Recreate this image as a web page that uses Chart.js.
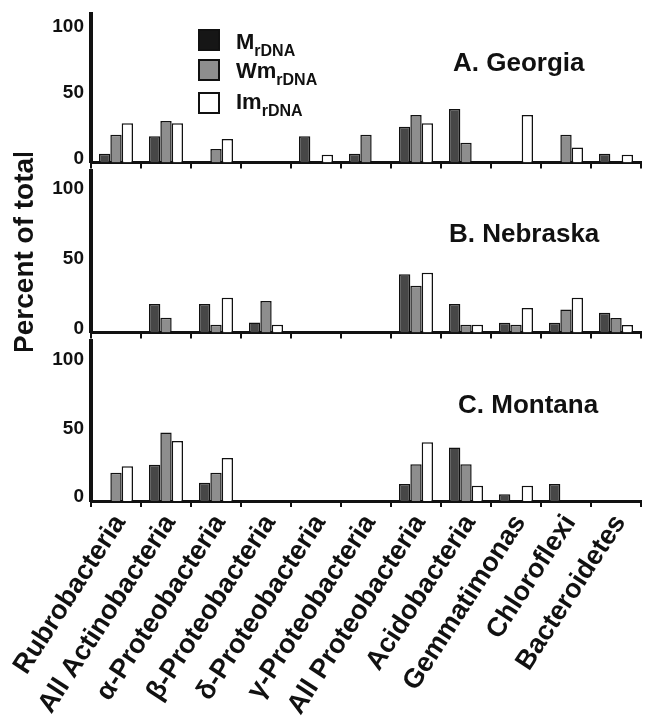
<!DOCTYPE html>
<html>
<head>
<meta charset="utf-8">
<script src="https://cdn.jsdelivr.net/npm/chart.js@4.4.1/dist/chart.umd.min.js"></script>
<style>
    body { margin: 0; background: #fff; font-family: 'Liberation Sans', Arial, sans-serif; }
    #wrap { position: relative; width: 648px; height: 728px; overflow: hidden; }
    canvas { position: absolute; left: 0; }
    .ttl { position: absolute; font-size: 26px; line-height: 26px; font-weight: bold; color: #111; white-space: nowrap; }
    .sq { position: absolute; left: 198px; width: 18px; height: 18px; border: 2px solid #111; }
    .lg { position: absolute; left: 236px; font-size: 22px; line-height: 22px; font-weight: bold; color: #111; white-space: nowrap; }
    .lg span { font-size: 16px; position: relative; top: 7px; }
</style>
</head>
<body>
<div id="wrap">
    <canvas id="cA" width="648" height="185" style="top:-4px"></canvas>
    <canvas id="cB" width="648" height="198" style="top:153px"></canvas>
    <canvas id="cC" width="648" height="405" style="top:323px"></canvas>

    <div class="sq" style="top:29px; background:#161616"></div>
    <div class="sq" style="top:59px; background:#8e8e8e"></div>
    <div class="sq" style="top:92px; background:#fff"></div>
    <div class="lg" style="top:31px">M<span>rDNA</span></div>
    <div class="lg" style="top:60px">Wm<span>rDNA</span></div>
    <div class="lg" style="top:91px">Im<span>rDNA</span></div>

    <div class="ttl" style="left:453px; top:49px">A. Georgia</div>
    <div class="ttl" style="left:449px; top:220px">B. Nebraska</div>
    <div class="ttl" style="left:458px; top:391px">C. Montana</div>
</div>
<script>
// categories along the shared x axis
var categories = ['Rubrobacteria', 'All Actinobacteria', 'α-Proteobacteria', 'β-Proteobacteria',
    'δ-Proteobacteria', 'γ-Proteobacteria', 'All Proteobacteria', 'Acidobacteria',
    'Gemmatimonas', 'Chloroflexi', 'Bacteroidetes'];
var seriesNames = ['MrDNA', 'WmrDNA', 'ImrDNA'];
var yTicks = [0, 50, 100];

// A. Georgia
var georgiaM  = [6.6, 20, null, null, 20, 6.6, 27, 40.5, null, null, 6.6];
var georgiaWm = [21, 31.4, 10.2, null, null, 21, 36, 15, null, 21, null];
var georgiaIm = [29.8, 29.8, 17.9, null, 6, null, 29.8, null, 36, 11.4, 6];

// B. Nebraska
var nebraskaM  = [null, 20.5, 20.5, 7.3, null, null, 41.8, 20.5, 7, 7, 14.3];
var nebraskaWm = [null, 10.7, 5.7, 22.7, null, null, 33.6, 5.7, 5.7, 16.6, 10.4];
var nebraskaIm = [null, null, 25, 5.7, null, null, 43, 5.7, 17.7, 25, 5.5];

// C. Montana
var montanaM  = [null, 26.5, 13.3, null, null, null, 12.3, 39, 5, 12.3, null];
var montanaWm = [20.6, 49.9, 20.6, null, null, null, 26.7, 26.7, null, null, null];
var montanaIm = [25.3, 43.8, 31.4, null, null, null, 42.8, 11.1, 11.1, null, null];

Chart.defaults.font.family = "'Liberation Sans', Arial, sans-serif";
Chart.defaults.color = '#111';

var fills = ['#474747', '#8e8e8e', '#ffffff'];

function makeSets(m, wm, im) {
    let data = [m, wm, im];
    let sets = [];
    for(let i=0; i<3; i++) {
        sets.push({
            label: seriesNames[i],
            data: data[i],
            backgroundColor: fills[i],
            borderColor: '#111',
            borderWidth: 1.5,
            categoryPercentage: 0.68,
            barPercentage: 1
        });
    }
    return sets;
}

function makeChart(id, sets, yMax, bottom, showLabels, yTitle) {
    return new Chart(document.getElementById(id), {
        type: 'bar',
        data: { labels: categories, datasets: sets },
        options: {
            responsive: false,
            animation: false,
            layout: { padding: { top: 14, left: 0, right: 7, bottom: 0 } },
            plugins: { legend: { display: false }, tooltip: { enabled: false } },
            scales: {
                x: {
                    grid: { display: true, drawOnChartArea: false, drawTicks: true, tickLength: 6,
                            color: '#111', lineWidth: 2, offset: true },
                    border: { display: true, color: '#111', width: 3 },
                    ticks: {
                        display: showLabels, autoSkip: false, minRotation: 57, maxRotation: 57,
                        padding: 2, labelOffset: 4, color: '#111', font: { size: 27, weight: 'bold' }
                    },
                    afterFit: (axis) => { axis.height = bottom; }
                },
                y: {
                    min: 0,
                    max: yMax,
                    grid: { display: false, drawTicks: false },
                    border: { display: true, color: '#111', width: 4 },
                    afterBuildTicks: (axis) => {
                        axis.ticks = yTicks.map(v => ({ value: v }));
                    },
                    ticks: { padding: 7, labelOffset: -4, color: '#111', font: { size: 19, weight: 'bold' } },
                    title: {
                        display: yTitle,
                        text: 'Percent of total',
                        color: '#111',
                        font: { size: 28, weight: 'bold' },
                        padding: { top: 8, bottom: 0 }
                    },
                    afterFit: (axis) => { axis.width = 91; }
                }
            }
        }
    });
}

makeChart('cA', makeSets(georgiaM, georgiaWm, georgiaIm), 112, 14, false, false);
makeChart('cB', makeSets(nebraskaM, nebraskaWm, nebraskaIm), 115.6, 14, false, true);
makeChart('cC', makeSets(montanaM, montanaWm, montanaIm), 116.3, 227, true, false);
</script>
</body>
</html>
